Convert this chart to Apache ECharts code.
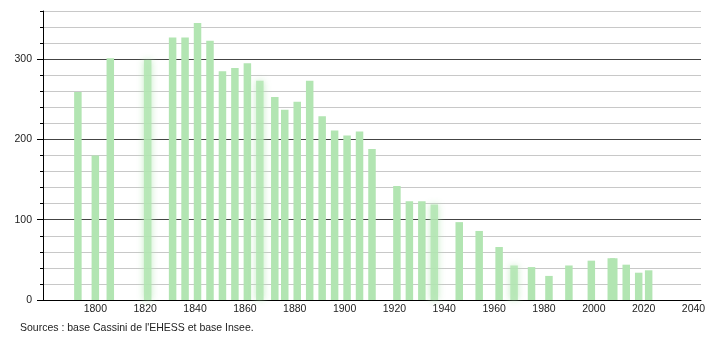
<!DOCTYPE html>
<html>
<head>
<meta charset="utf-8">
<script src="https://cdn.jsdelivr.net/npm/echarts@6/dist/echarts.min.js"></script>
<style>
html,body{margin:0;padding:0;background:#fff;}
#c{width:710px;height:340px;}
</style>
</head>
<body>
<div id="c"></div>
<script>
// Census years and population
const years = [1793,1800,1806,1821,1831,1836,1841,1846,1851,1856,1861,1866,1872,1876,1881,1886,1891,1896,1901,1906,1911,1921,1926,1931,1936,1946,1954,1962,1968,1975,1982,1990,1999,2007,2008,2013,2018,2022];
const population = [259,180,301,299,327,327,345,323,285,289,295,273,253,237,247,273,229,211,205,210,188,142,123,123,119,97,86,66,43,41,30,43,49,52,52,44,34,37];
const blurredYears = [1821,1866,1936,1968];
const xTickLabels = [1800,1820,1840,1860,1880,1900,1920,1940,1960,1980,2000,2020,2040];
const yTickLabels = [0,100,200,300];
const sourceText = "Sources : base Cassini de l'EHESS et base Insee.";

const barColor = '#b2e5b2';
const data = years.map((y, i) => {
  const item = { value: [y, population[i]] };
  if (blurredYears.includes(y)) {
    item.itemStyle = { color: 'rgba(178,229,178,0.85)', shadowBlur: 7, shadowColor: 'rgba(178,229,178,0.9)' };
  }
  return item;
});

const chart = echarts.init(document.getElementById('c'), null, { renderer: 'canvas' });
const font = 'Liberation Sans, Arial, Helvetica, sans-serif';
chart.setOption({
  animation: false,
  backgroundColor: '#fff',
  grid: { left: 43, right: 9, top: 11, bottom: 40, containLabel: false, outerBoundsMode: 'none' },
  xAxis: {
    type: 'value', min: 1779, max: 2043,
    axisLine: { show: true, lineStyle: { color: '#000', width: 1 } },
    axisTick: { show: false },
    splitLine: { show: false },
    axisLabel: { customValues: xTickLabels, formatter: v => String(v), color: '#222', fontSize: 10.5, fontFamily: font, margin: 4 }
  },
  yAxis: [
    {
      type: 'value', min: 0, max: 360, interval: 20, position: 'left',
      axisLine: { show: true, lineStyle: { color: '#000' } },
      axisTick: { show: true, length: 3, lineStyle: { color: '#000' } },
      axisLabel: { show: false },
      splitLine: { show: true, lineStyle: { color: '#c8c8c8', width: 1 } }
    },
    {
      type: 'value', min: 0, max: 360, interval: 100, position: 'left', offset: 0,
      axisLine: { show: false },
      axisTick: { show: true, length: 6, customValues: yTickLabels, lineStyle: { color: '#000' } },
      axisLabel: { customValues: yTickLabels, formatter: v => String(v), color: '#222', fontSize: 10.5, fontFamily: font, margin: 11 },
      splitLine: { show: true, showMinLine: false, lineStyle: { color: '#444', width: 1 } }
    }
  ],
  graphic: [{
    type: 'text', left: 20, top: 323,
    style: { text: sourceText, fill: '#222', font: '10.5px ' + font }
  }],
  series: [{
    type: 'bar', yAxisIndex: 0, data: data, barWidth: 7.5,
    itemStyle: { color: barColor }
  }]
});
</script>
</body>
</html>
